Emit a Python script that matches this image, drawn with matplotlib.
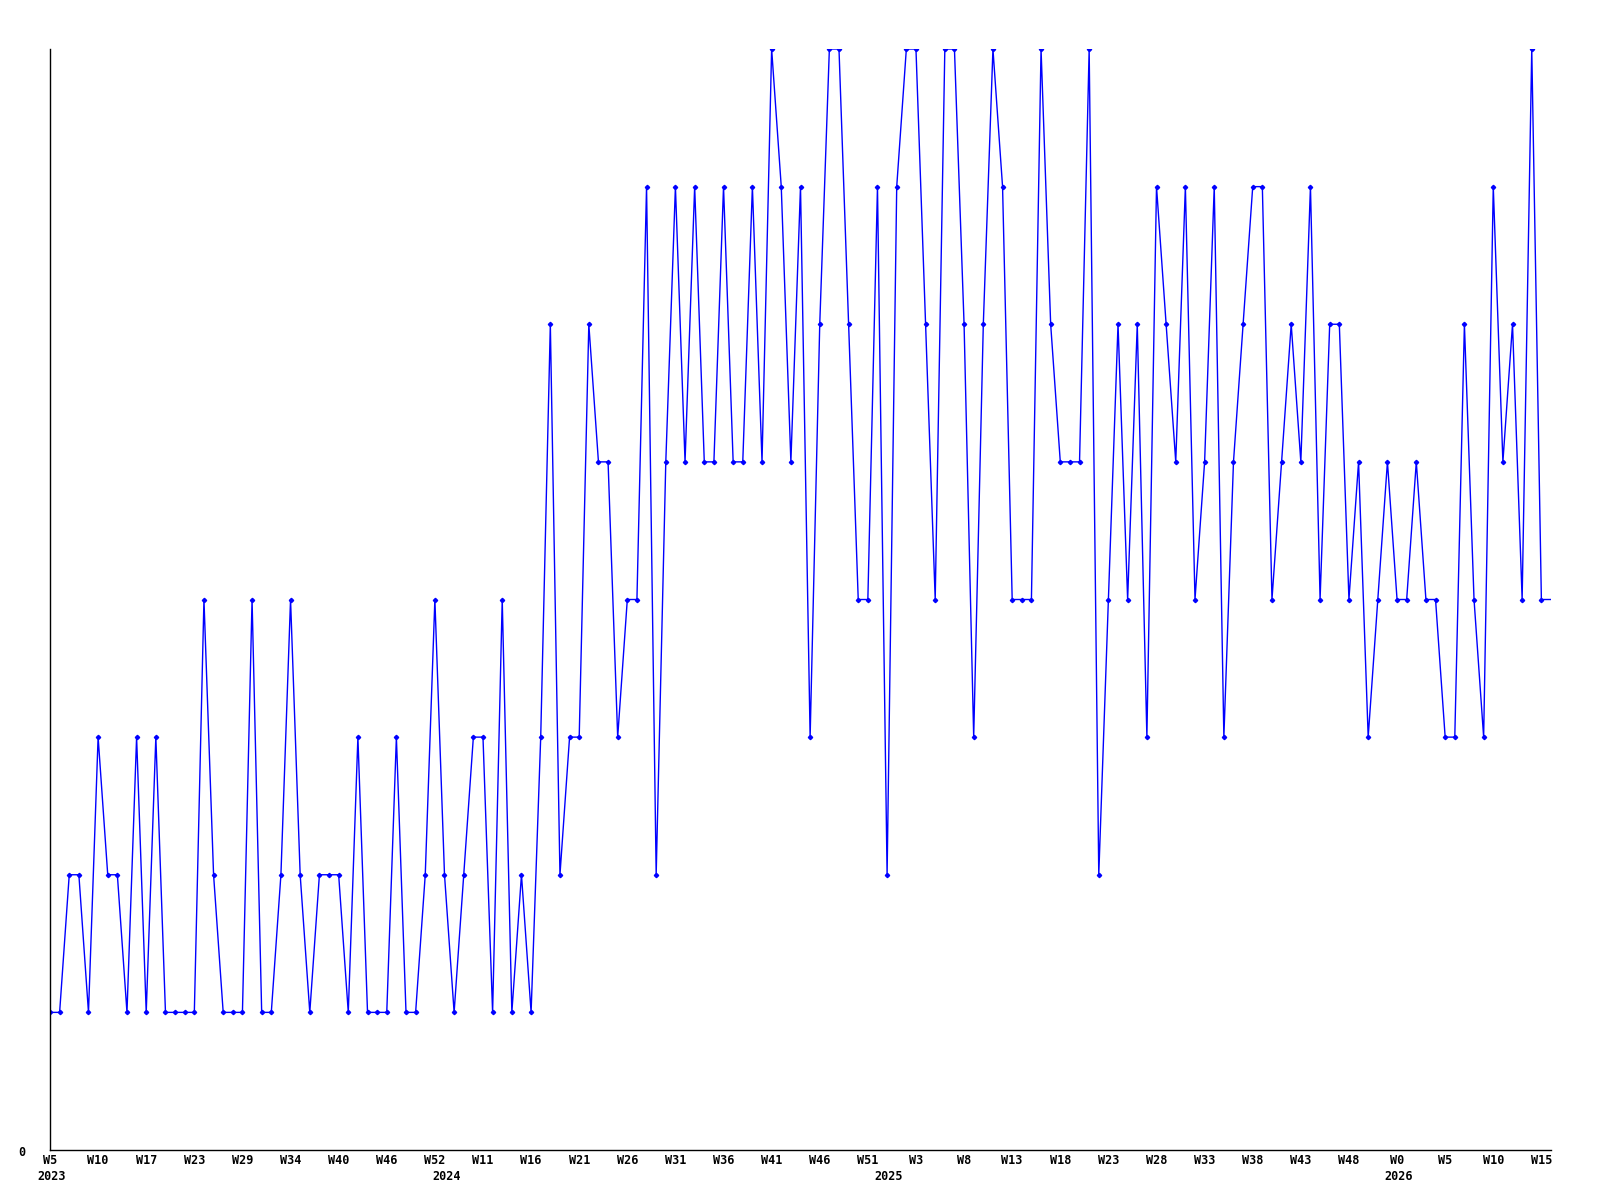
import matplotlib
matplotlib.use("Agg")
import matplotlib.pyplot as plt
from matplotlib import transforms

# weekly values, one point per reported week (last value has no marker)
values = [1, 1, 2, 2, 1, 3, 2, 2, 1, 3,
          1, 3, 1, 1, 1, 1, 4, 2, 1, 1,
          1, 4, 1, 1, 2, 4, 2, 1, 2, 2,
          2, 1, 3, 1, 1, 1, 3, 1, 1, 2,
          4, 2, 1, 2, 3, 3, 1, 4, 1, 2,
          1, 3, 6, 2, 3, 3, 6, 5, 5, 3,
          4, 4, 7, 2, 5, 7, 5, 7, 5, 5,
          7, 5, 5, 7, 5, 8, 7, 5, 7, 3,
          6, 8, 8, 6, 4, 4, 7, 2, 7, 8,
          8, 6, 4, 8, 8, 6, 3, 6, 8, 7,
          4, 4, 4, 8, 6, 5, 5, 5, 8, 2,
          4, 6, 4, 6, 3, 7, 6, 5, 7, 4,
          5, 7, 3, 5, 6, 7, 7, 4, 5, 6,
          5, 7, 4, 6, 6, 4, 5, 3, 4, 5,
          4, 4, 5, 4, 4, 3, 3, 6, 4, 3,
          7, 5, 6, 4, 8, 4, 4]

week_labels = ['W5', 'W10', 'W17', 'W23', 'W29', 'W34', 'W40', 'W46', 'W52',
               'W11', 'W16', 'W21', 'W26', 'W31', 'W36', 'W41', 'W46', 'W51',
               'W3', 'W8', 'W13', 'W18', 'W23', 'W28', 'W33', 'W38', 'W43', 'W48',
               'W0', 'W5', 'W10', 'W15']
year_labels = ['2023', '2024', '2025', '2026']
year_pos = [0, 41, 87, 140]

blue = '#0000ff'
font = dict(family='DejaVu Sans Mono', fontweight='bold', fontsize=8.5)

fig = plt.figure(figsize=(16, 12), dpi=100)
ax = fig.add_axes([50 / 1600, 50 / 1200, 1501 / 1600, 1101 / 1200])

x = list(range(len(values)))
ax.plot(x, values, color=blue, lw=1.0, marker='D', ms=2.2, mec=blue, mfc=blue,
        markevery=list(range(len(values) - 1)))

ax.set_xlim(0, len(values) - 1)
ax.set_ylim(0, 8)

for side in ['top', 'right']:
    ax.spines[side].set_visible(False)
for side in ['left', 'bottom']:
    ax.spines[side].set_linewidth(1.0)
    ax.spines[side].set_color('black')

ax.set_xticks([])
ax.set_yticks([])

trans = transforms.blended_transform_factory(ax.transData, fig.transFigure)
yr_trans = trans + transforms.ScaledTranslation(2 / 100, 0, fig.dpi_scale_trans)
for i, lab in enumerate(week_labels):
    ax.text(i * 5, 1 - 1161 / 1200, lab, transform=trans, ha='center', va='center', **font)
for pos, lab in zip(year_pos, year_labels):
    ax.text(pos, 1 - 1177 / 1200, lab, transform=yr_trans, ha='center', va='center', **font)

fig.text(22 / 1600, 1 - 1152 / 1200, '0', ha='center', va='center', **font)

fig.savefig('out.png', dpi=100)
